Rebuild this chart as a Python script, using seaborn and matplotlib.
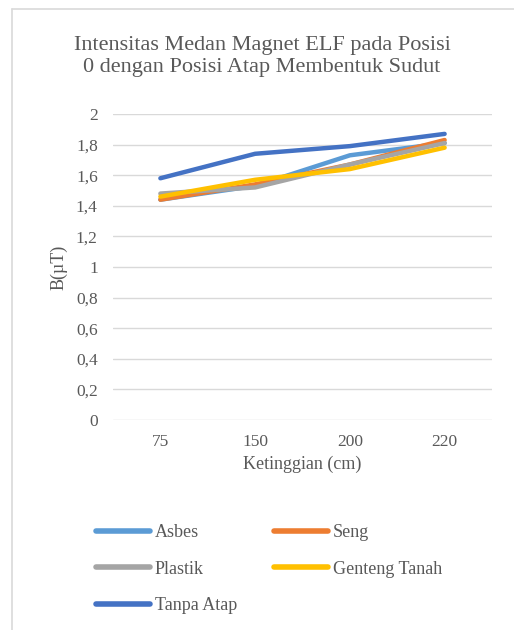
import numpy as np
import pandas as pd
import matplotlib
matplotlib.use("Agg")
import matplotlib.pyplot as plt
import seaborn as sns
from matplotlib.lines import Line2D
from matplotlib.ticker import FuncFormatter

# Data
ketinggian = ["75", "150", "200", "220"]
asbes = [1.44, 1.53, 1.73, 1.81]
seng = [1.44, 1.54, 1.67, 1.83]
plastik = [1.48, 1.52, 1.67, 1.81]
genteng_tanah = [1.46, 1.57, 1.64, 1.78]
tanpa_atap = [1.58, 1.74, 1.79, 1.87]

series_names = ["Asbes", "Seng", "Plastik", "Genteng Tanah", "Tanpa Atap"]
series_vals = [asbes, seng, plastik, genteng_tanah, tanpa_atap]
colors = ["#5B9BD5", "#ED7D31", "#A5A5A5", "#FFC000", "#4472C4"]

rows = []
for name, vals in zip(series_names, series_vals):
    for x, v in zip(ketinggian, vals):
        rows.append({"Ketinggian": x, "B": v, "Atap": name})
df = pd.DataFrame(rows)

sns.set_style("white")
plt.rcParams["font.family"] = ["Liberation Serif", "DejaVu Serif"]
text_col = "#595959"

fig = plt.figure(figsize=(5.14, 6.30), dpi=100)
ax = fig.add_axes([113 / 514, 210 / 630, 379 / 514, 306 / 630])

sns.lineplot(data=df, x="Ketinggian", y="B", hue="Atap",
             hue_order=series_names, palette=colors, linewidth=3.2,
             ax=ax, legend=False, sort=False)
for ln in ax.get_lines():
    ln.set_solid_capstyle("round")
    ln.set_solid_joinstyle("round")

ax.set_xlim(-0.5, 3.5)
ax.set_ylim(0, 2)
ax.set_yticks(np.arange(0, 2.01, 0.2))
ax.yaxis.set_major_formatter(FuncFormatter(lambda v, p: f"{v:g}".replace(".", ",")))
ax.grid(axis="y", color="#D9D9D9", linewidth=1)
ax.set_axisbelow(True)
for s in ax.spines.values():
    s.set_visible(False)
ax.tick_params(axis="y", length=0, labelsize=12.5, colors=text_col, pad=11)
ax.tick_params(axis="x", length=0, labelsize=12.5, colors=text_col, pad=10)
ax.set_xlabel("Ketinggian (cm)", fontsize=13, color=text_col, labelpad=4)
ax.set_ylabel("B(µT)", fontsize=13, color=text_col, labelpad=6)

fig.text(0.51, 0.911, "Intensitas Medan Magnet ELF pada Posisi\n0 dengan Posisi Atap Membentuk Sudut",
         ha="center", va="center", fontsize=16, color=text_col, linespacing=1.22)

# legend filled row by row: reorder for matplotlib's column-wise fill
order = [0, 2, 4, 1, 3]
handles = [Line2D([0], [0], color=colors[i], linewidth=4, solid_capstyle="round") for i in order]
labels = [series_names[i] for i in order]
fig.legend(handles, labels, loc="upper left", bbox_to_anchor=(80 / 514, 1 - 508 / 630),
           ncol=2, frameon=False, fontsize=13, labelcolor=text_col,
           handlelength=3.0, handletextpad=0.25, columnspacing=2.05, labelspacing=1.07)

# chart border (left and top edges visible)
fig.add_artist(Line2D([12 / 514, 12 / 514], [0, 1 - 9 / 630], transform=fig.transFigure,
                      color="#D9D9D9", linewidth=1.2))
fig.add_artist(Line2D([12 / 514, 1], [1 - 9 / 630, 1 - 9 / 630], transform=fig.transFigure,
                      color="#D9D9D9", linewidth=1.2))

fig.savefig("out.png", dpi=100)
